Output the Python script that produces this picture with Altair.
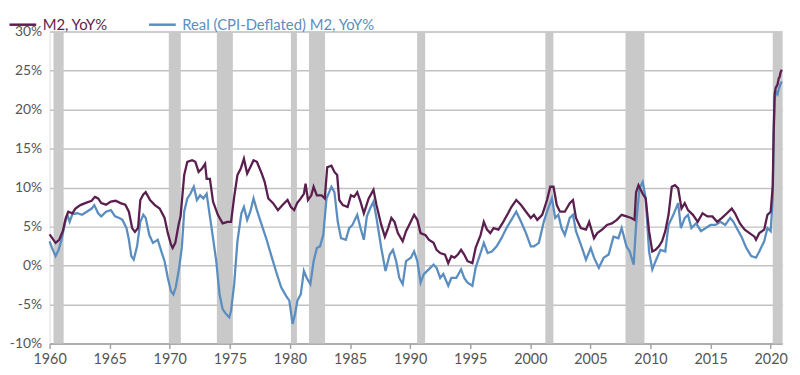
import altair as alt
import pandas as pd

series_names = ["M2, YoY%", "Real (CPI-Deflated) M2, YoY%"]
series_colors = ["#5a1f4e", "#5b8ec0"]

m2_years = [
    1960.0, 1960.5, 1960.8, 1961.1, 1961.35, 1961.56, 1961.9, 1962.15, 1962.56, 1962.96,
    1963.5, 1963.77, 1964.04, 1964.3, 1964.7, 1965.1, 1965.5, 1965.9, 1966.3, 1966.6,
    1966.87, 1967.1, 1967.36, 1967.55, 1967.8, 1968.0, 1968.36, 1968.76, 1969.16, 1969.57,
    1969.84, 1970.1, 1970.24, 1970.46, 1970.73, 1970.9, 1971.2, 1971.46, 1971.86, 1972.13,
    1972.4, 1972.67, 1972.94, 1973.07, 1973.34, 1973.6, 1974.0, 1974.4, 1974.8, 1975.1,
    1975.36, 1975.63, 1975.9, 1976.17, 1976.44, 1976.7, 1976.97, 1977.25, 1977.65, 1977.9,
    1978.2, 1978.6, 1979.0, 1979.4, 1979.8, 1980.08, 1980.35, 1980.6, 1980.9, 1981.16,
    1981.3, 1981.5, 1981.78, 1981.97, 1982.24, 1982.64, 1982.9, 1983.1, 1983.45, 1983.7,
    1983.93, 1984.1, 1984.4, 1984.8, 1985.07, 1985.34, 1985.6, 1985.87, 1986.15, 1986.55,
    1986.95, 1987.2, 1987.6, 1987.9, 1988.17, 1988.44, 1988.7, 1988.98, 1989.38, 1989.66,
    1989.98, 1990.33, 1990.6, 1990.87, 1991.28, 1991.55, 1991.95, 1992.2, 1992.5, 1992.9,
    1993.17, 1993.43, 1993.7, 1993.97, 1994.24, 1994.5, 1994.78, 1995.18, 1995.45, 1995.86,
    1996.13, 1996.4, 1996.67, 1996.94, 1997.35, 1997.75, 1998.15, 1998.42, 1998.83, 1999.23,
    1999.64, 2000.04, 2000.3, 2000.58, 2000.99, 2001.39, 2001.66, 2001.93, 2002.2, 2002.47,
    2002.87, 2003.28, 2003.55, 2003.8, 2004.2, 2004.63, 2004.9, 2005.3, 2005.57, 2005.97,
    2006.38, 2006.78, 2007.2, 2007.6, 2008.0, 2008.4, 2008.67, 2008.8, 2009.0, 2009.35,
    2009.6, 2009.88, 2010.15, 2010.42, 2010.7, 2010.96, 2011.23, 2011.5, 2011.77, 2012.04,
    2012.3, 2012.58, 2012.85, 2013.12, 2013.53, 2013.93, 2014.33, 2014.74, 2015.15, 2015.55,
    2015.95, 2016.36, 2016.76, 2017.03, 2017.44, 2017.84, 2018.24, 2018.65, 2018.78, 2019.05,
    2019.46, 2019.73, 2020.0, 2020.17, 2020.25, 2020.33, 2020.42, 2020.5, 2020.58, 2020.67,
    2020.75, 2020.83, 2020.92,
]
m2_values = [
    4.0, 2.9, 3.3, 4.4, 6.1, 6.9, 6.7, 7.3, 7.75, 8.0,
    8.3, 8.8, 8.6, 8.0, 7.8, 8.2, 8.3, 8.0, 7.8, 6.9,
    4.8, 4.3, 4.8, 8.4, 9.1, 9.4, 8.4, 7.75, 7.3, 6.1,
    4.15, 2.7, 2.25, 2.9, 5.2, 6.3, 11.6, 13.3, 13.5, 13.3,
    12.0, 12.4, 13.05, 11.1, 11.1, 8.2, 6.5, 5.4, 5.6, 5.6,
    8.8, 11.6, 12.4, 13.7, 11.8, 12.6, 13.5, 13.3, 11.8, 10.7,
    8.6, 8.0, 7.1, 7.8, 8.4, 7.5, 7.1, 8.0, 8.6, 9.2,
    10.5, 8.4, 9.0, 10.1, 9.0, 9.0, 8.6, 12.6, 12.8, 12.0,
    11.6, 8.4, 7.75, 7.5, 9.0, 8.8, 9.4, 8.2, 6.7, 8.6,
    9.7, 7.75, 5.2, 3.7, 4.8, 6.1, 5.6, 4.15, 3.1, 4.4,
    5.4, 6.5, 5.85, 4.15, 3.9, 3.3, 2.9, 2.0, 1.6, 1.4,
    0.3, 1.2, 1.0, 1.4, 2.0, 1.4, 0.55, 0.3, 2.25, 3.9,
    5.6, 4.6, 4.15, 4.8, 4.6, 5.6, 6.7, 7.5, 8.4, 7.75,
    6.9, 6.1, 6.5, 5.85, 6.5, 8.4, 10.1, 10.1, 7.75, 6.9,
    6.9, 8.0, 8.4, 6.1, 4.8, 4.6, 5.6, 3.5, 4.15, 4.6,
    5.2, 5.4, 5.85, 6.5, 6.3, 6.1, 5.85, 9.4, 10.3, 9.2,
    8.6, 4.4, 1.8, 2.0, 2.45, 3.1, 4.4, 6.5, 10.1, 10.3,
    9.9, 7.3, 8.0, 7.1, 6.5, 5.6, 6.7, 6.3, 6.3, 5.6,
    6.1, 6.7, 7.3, 6.7, 5.4, 4.6, 4.15, 3.7, 3.3, 4.15,
    4.6, 6.5, 6.9, 10.2, 17.2, 22.0, 22.8, 23.0, 23.3, 24.0,
    24.2, 24.8, 25.1,
]

real_years = [
    1960.0, 1960.2, 1960.5, 1960.75, 1961.0, 1961.3, 1961.48, 1961.67, 1961.9, 1962.3,
    1962.7, 1963.1, 1963.5, 1963.72, 1964.04, 1964.3, 1964.7, 1965.1, 1965.45, 1965.8,
    1966.06, 1966.4, 1966.6, 1966.8, 1967.0, 1967.28, 1967.55, 1967.8, 1968.0, 1968.3,
    1968.6, 1969.0, 1969.3, 1969.57, 1969.84, 1970.1, 1970.3, 1970.5, 1970.78, 1971.0,
    1971.2, 1971.46, 1971.72, 1972.0, 1972.26, 1972.53, 1972.8, 1973.07, 1973.34, 1973.6,
    1973.87, 1974.14, 1974.4, 1974.67, 1974.95, 1975.1, 1975.36, 1975.63, 1975.96, 1976.17,
    1976.44, 1976.7, 1976.97, 1977.25, 1977.65, 1978.06, 1978.46, 1978.87, 1979.27, 1979.68,
    1979.95, 1980.22, 1980.43, 1980.62, 1980.9, 1981.16, 1981.4, 1981.7, 1981.97, 1982.24,
    1982.5, 1982.77, 1983.04, 1983.45, 1983.7, 1983.98, 1984.25, 1984.65, 1984.93, 1985.2,
    1985.6, 1985.87, 1986.15, 1986.4, 1986.67, 1986.95, 1987.2, 1987.6, 1987.95, 1988.3,
    1988.57, 1988.84, 1989.1, 1989.38, 1989.66, 1990.06, 1990.33, 1990.6, 1990.87, 1991.14,
    1991.55, 1991.95, 1992.2, 1992.5, 1992.76, 1993.17, 1993.43, 1993.84, 1994.24, 1994.5,
    1994.78, 1995.18, 1995.45, 1995.86, 1996.13, 1996.45, 1996.8, 1997.2, 1997.6, 1998.02,
    1998.42, 1998.83, 1999.23, 1999.64, 2000.04, 2000.3, 2000.71, 2001.12, 2001.39, 2001.8,
    2002.07, 2002.33, 2002.6, 2002.87, 2003.28, 2003.55, 2003.8, 2004.2, 2004.63, 2005.03,
    2005.3, 2005.7, 2006.1, 2006.52, 2006.92, 2007.33, 2007.6, 2008.0, 2008.27, 2008.6,
    2008.8, 2009.08, 2009.35, 2009.6, 2009.88, 2010.15, 2010.42, 2010.83, 2011.23, 2011.5,
    2011.9, 2012.3, 2012.53, 2012.85, 2013.12, 2013.4, 2013.8, 2014.2, 2014.6, 2015.0,
    2015.42, 2015.82, 2016.22, 2016.63, 2016.9, 2017.17, 2017.57, 2017.97, 2018.38, 2018.78,
    2019.05, 2019.46, 2019.73, 2020.0, 2020.17, 2020.25, 2020.33, 2020.42, 2020.5, 2020.58,
    2020.67, 2020.75, 2020.83, 2020.92,
]
real_values = [
    3.1, 2.25, 1.2, 2.0, 3.3, 5.6, 6.5, 5.6, 6.6, 6.7,
    6.5, 6.9, 7.3, 7.75, 6.7, 6.3, 6.9, 7.1, 6.3, 6.1,
    5.85, 4.8, 3.3, 1.2, 0.75, 2.45, 5.6, 6.5, 6.1, 3.9,
    2.9, 3.3, 1.8, 0.55, -1.6, -3.3, -3.7, -2.8, -0.3, 2.25,
    6.9, 8.6, 9.2, 10.1, 8.4, 9.0, 8.6, 9.2, 6.3, 3.5,
    0.55, -3.7, -5.6, -6.2, -6.65, -5.8, -2.4, 3.1, 6.7, 7.5,
    5.85, 6.9, 8.6, 7.1, 5.2, 3.3, 1.2, -0.9, -2.8, -3.9,
    -4.5, -7.5, -6.2, -4.5, -3.7, -0.7, -1.6, -2.4, 0.55, 2.25,
    2.45, 3.9, 8.6, 10.1, 9.4, 5.6, 3.5, 3.3, 4.8, 5.2,
    6.5, 4.8, 3.3, 6.3, 7.3, 8.2, 6.1, 2.25, -0.7, 1.4,
    2.0, 0.55, -1.6, -2.4, 0.55, 1.0, 1.8, 0.55, -2.2, -1.1,
    -0.5, 0.1, -0.3, -1.6, -1.1, -2.6, -1.6, -1.6, -0.5, -1.6,
    -2.2, -2.6, -0.3, 1.6, 2.9, 1.6, 1.8, 2.45, 3.5, 4.8,
    5.85, 6.9, 5.6, 4.15, 2.45, 2.45, 2.9, 5.6, 6.9, 8.6,
    6.1, 6.5, 4.8, 3.9, 6.1, 6.5, 4.4, 2.7, 0.75, 2.25,
    1.0, -0.3, 1.0, 1.4, 3.7, 3.5, 4.8, 2.45, 1.8, 0.1,
    5.2, 9.9, 10.7, 8.6, 1.8, -0.5, 0.55, 2.0, 1.8, 5.2,
    6.5, 8.0, 4.8, 6.1, 6.5, 4.8, 5.4, 4.4, 4.8, 5.2,
    5.2, 5.6, 5.2, 6.1, 5.6, 4.8, 3.7, 2.25, 1.2, 1.0,
    1.8, 3.1, 4.8, 4.4, 8.7, 16.9, 21.5, 22.0, 22.2, 22.0,
    22.6, 23.0, 23.3, 23.6,
]

recession_start = [1960.33, 1969.92, 1973.92, 1980.08, 1981.58, 1990.58, 2001.25, 2007.92, 2020.17]
recession_end = [1961.17, 1970.92, 1975.25, 1980.58, 1982.92, 1991.25, 2001.92, 2009.5, 2020.95]

x_ticks = [1960, 1965, 1970, 1975, 1980, 1985, 1990, 1995, 2000, 2005, 2010, 2015, 2020]
y_ticks = [-10, -5, 0, 5, 10, 15, 20, 25, 30]

df = pd.concat([
    pd.DataFrame({"year": m2_years, "value": m2_values, "series": series_names[0]}),
    pd.DataFrame({"year": real_years, "value": real_values, "series": series_names[1]}),
])
rec = pd.DataFrame({"start": recession_start, "end": recession_end})

x_scale = alt.Scale(domain=[1960, 2020.95], nice=False, zero=False)
y_scale = alt.Scale(domain=[-10, 30], nice=False, zero=False)

x_axis = alt.Axis(
    values=x_ticks, format="d", title=None, grid=False, labelFlush=False,
    labelFontSize=14.5, labelColor="#555555", labelFont="Lato", labelPadding=4,
    domainColor="#a3a3a3", domainWidth=1.5, tickColor="#a3a3a3", tickWidth=1.5, tickSize=5,
)
y_axis = alt.Axis(
    values=y_ticks, title=None, labelExpr="datum.value + '%'",
    labelFontSize=14, labelColor="#555555", labelFont="Lato", labelPadding=8,
    domain=False, ticks=False, grid=True, gridColor="#c2c2c2", gridWidth=1.5,
)

rects = alt.Chart(rec).mark_rect(color="#c9c9c9").encode(
    x=alt.X("start:Q", scale=x_scale, axis=x_axis),
    x2="end:Q",
)

color = alt.Color(
    "series:N",
    scale=alt.Scale(domain=series_names, range=series_colors),
    legend=alt.Legend(
        orient="none", legendX=-42, legendY=-22, direction="horizontal", columns=2,
        title=None, symbolType="stroke", symbolSize=729, symbolStrokeWidth=2.5,
        labelFontSize=15, labelFont="Lato", labelOffset=5, columnPadding=36, padding=0,
        labelLimit=400,
        labelColor={"expr": "datum.value == 'M2, YoY%' ? '#5a1f4e' : '#5b8ec0'"},
    ),
)

base = alt.Chart(df).mark_line(strokeWidth=2.3).encode(
    x=alt.X("year:Q", scale=x_scale, axis=x_axis),
    y=alt.Y("value:Q", scale=y_scale, axis=y_axis),
    color=color,
    order="year:Q",
)

real_line = base.transform_filter(alt.datum.series == series_names[1])
m2_line = base.transform_filter(alt.datum.series == series_names[0])

chart = alt.layer(rects, real_line, m2_line).properties(
    width=740, height=315,
    autosize=alt.AutoSizeParams(type="none"),
    padding={"left": 42, "top": 22, "right": 10, "bottom": 28},
).configure_view(stroke=None).configure(font="Lato")

chart.save("out.html", embed_options={"renderer": "svg", "actions": False})
